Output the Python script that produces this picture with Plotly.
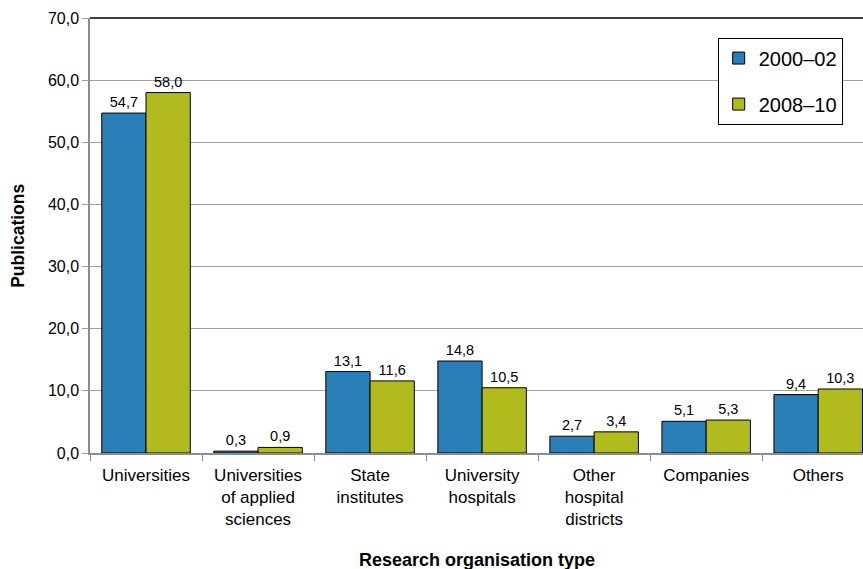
import plotly.graph_objects as go

categories = [
    "Universities",
    "Universities<br>of applied<br>sciences",
    "State<br>institutes",
    "University<br>hospitals",
    "Other<br>hospital<br>districts",
    "Companies",
    "Others",
]
series_2000_02 = [54.7, 0.3, 13.1, 14.8, 2.7, 5.1, 9.4]
series_2008_10 = [58.0, 0.9, 11.6, 10.5, 3.4, 5.3, 10.3]
y_ticks = [0, 10, 20, 30, 40, 50, 60, 70]

FONT = "Liberation Sans, Arial, Helvetica, sans-serif"
BLUE = "#2A7FB8"
GREEN = "#B2BB1E"

fig = go.Figure()
for name, vals, color, grp in [
    ("2000\u201302", series_2000_02, BLUE, "a"),
    ("2008\u201310", series_2008_10, GREEN, "b"),
]:
    fig.add_trace(go.Bar(
        x=categories, y=vals, name=name, legendgroup=grp,
        marker=dict(color=color, line=dict(color="#000000", width=1)),
        texttemplate="%{y:.1f}", textposition="outside", cliponaxis=False,
        textfont=dict(family=FONT, size=14.5, color="#000000"),
    ))

fig.update_layout(
    width=863, height=569,
    margin=dict(l=90, r=0, t=18, b=116),
    paper_bgcolor="white", plot_bgcolor="white",
    separators=",.",
    barmode="group", bargap=0.21, bargroupgap=0.0,
    font=dict(family=FONT, size=17, color="#000000"),
    showlegend=True,
    legend=dict(
        x=0.812, y=0.955, xanchor="left", yanchor="top",
        bordercolor="#000000", borderwidth=1, bgcolor="white",
        font=dict(family=FONT, size=20, color="#000000"),
        traceorder="grouped", tracegroupgap=17,
    ),
    xaxis=dict(
        range=[-0.5, 6.4],
        showline=True, linecolor="#8c8c8c", linewidth=1.5,
        ticks="outside", tickson="boundaries", ticklen=6, tickcolor="#8c8c8c",
        tickfont=dict(family=FONT, size=17),
        ticklabelstandoff=6,
        showgrid=False,
    ),
    yaxis=dict(
        range=[0, 70], tickvals=y_ticks, tickformat=".1f",
        showline=True, linecolor="#8c8c8c", linewidth=1.5,
        showgrid=True, gridcolor="#a0a0a0", gridwidth=1,
        ticks="outside", ticklen=6, tickcolor="#a0a0a0",
        tickfont=dict(family=FONT, size=16),
        zeroline=False,
    ),
    shapes=[dict(type="line", xref="paper", yref="paper", x0=0, x1=1, y0=1, y1=1,
                 line=dict(color="#000000", width=1.5))],
    annotations=[
        dict(text="<b>Publications</b>", xref="paper", yref="paper", x=-0.094, y=0.5,
             xanchor="center", yanchor="middle", textangle=-90, showarrow=False,
             font=dict(family=FONT, size=17.5)),
        dict(text="<b>Research organisation type</b>", xref="paper", yref="paper",
             x=0.5, y=-0.246, xanchor="center", yanchor="middle", showarrow=False,
             font=dict(family=FONT, size=18)),
    ],
)

fig.write_html("out.html")
